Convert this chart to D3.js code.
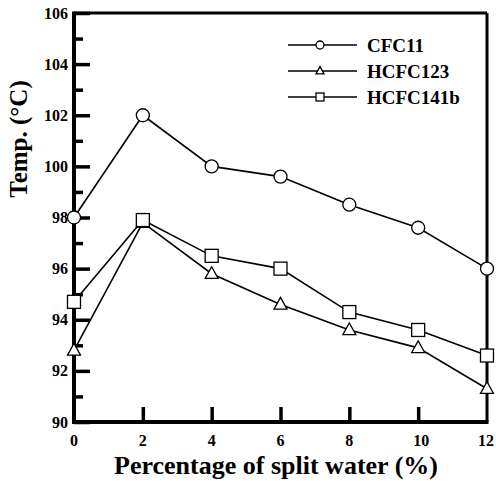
<!DOCTYPE html>
<html>
<head>
<meta charset="utf-8">
<script src="https://cdn.jsdelivr.net/npm/d3@7"></script>
<style>
  body { margin: 0; background: #fff; }
  text { font-family: "Liberation Serif", "Times New Roman", serif; font-weight: bold; }
</style>
</head>
<body>
<svg id="chart" width="496" height="481"></svg>
<script>
// data
var water = [0, 2, 4, 6, 8, 10, 12]
var cfc11 = [98.0, 102.0, 100.0, 99.6, 98.5, 97.6, 96.0]
var hcfc123 = [92.8, 97.8, 95.8, 94.6, 93.6, 92.9, 91.3]
var hcfc141b = [94.7, 97.9, 96.5, 96.0, 94.3, 93.6, 92.6]
var seriesNames = ["CFC11", "HCFC123", "HCFC141b"]
var markerTypes = ["circle", "triangle", "square"]
var xTicks = [0, 2, 4, 6, 8, 10, 12]
var yTicks = [90, 92, 94, 96, 98, 100, 102, 104, 106]
var yMinor = [91, 93, 95, 97, 99, 101, 103, 105]

var svg = d3.select("#chart")
var margin = {left: 74, right: 9, top: 13, bottom: 59}
var W = 496, H = 481

var x = d3.scaleLinear().domain([0, 12]).range([margin.left, W - margin.right])
var y = d3.scaleLinear().domain([90, 106]).range([H - margin.bottom, margin.top])

var allSeries = [cfc11, hcfc123, hcfc141b]

// frame
svg.append("line").attr("x1", x(0)).attr("x2", x(12)).attr("y1", y(106)).attr("y2", y(106))
    .attr("stroke", "#000").attr("stroke-width", 3)
svg.append("line").attr("x1", x(12)).attr("x2", x(12)).attr("y1", y(106)).attr("y2", y(90))
    .attr("stroke", "#000").attr("stroke-width", 3)

// y axis with inward ticks
var yAxis = svg.append("g").attr("transform", "translate(" + x(0) + ",0)")
    .call(d3.axisRight(y).tickValues(yTicks).tickSize(16).tickFormat(""))
yAxis.select(".domain").remove()
yAxis.selectAll("line").attr("stroke-width", 3.5)
var yMin = svg.append("g").attr("transform", "translate(" + x(0) + ",0)")
    .call(d3.axisRight(y).tickValues(yMinor).tickSize(9).tickFormat(""))
yMin.select(".domain").remove()
yMin.selectAll("line").attr("stroke-width", 3.5)

svg.selectAll(".ylab").data(yTicks).enter().append("text")
    .attr("x", x(0) - 6).attr("y", d => y(d) + 5.5)
    .attr("text-anchor", "end").attr("font-size", 16)
    .text(d => d)

// x axis with inward ticks
var xAxis = svg.append("g").attr("transform", "translate(0," + y(90) + ")")
    .call(d3.axisTop(x).tickValues(xTicks.slice(1, 6)).tickSize(15).tickFormat(""))
xAxis.select(".domain").remove()
xAxis.selectAll("line").attr("stroke-width", 3.5)

svg.selectAll(".xlab").data(xTicks).enter().append("text")
    .attr("x", d => d == 12 ? x(d) - 1 : x(d) + (d == 10 ? 3 : 0)).attr("y", y(90) + 24)
    .attr("text-anchor", "middle").attr("font-size", 16)
    .text(d => d)

svg.append("line").attr("x1", x(0)).attr("x2", x(0)).attr("y1", y(106) - 1.5).attr("y2", y(90) + 2)
    .attr("stroke", "#000").attr("stroke-width", 4)
svg.append("line").attr("x1", x(0) - 2).attr("x2", x(12) + 1.5).attr("y1", y(90)).attr("y2", y(90))
    .attr("stroke", "#000").attr("stroke-width", 4)

// titles
svg.append("text").attr("x", 276).attr("y", 474).attr("text-anchor", "middle")
    .attr("font-size", 26).text("Percentage of split water (%)")
svg.append("text").attr("transform", "translate(27,139) rotate(-90)")
    .attr("text-anchor", "middle").attr("font-size", 25).text("Temp. (°C)")

// marker helper
function drawMarker(g, type, cx, cy, s) {
    if (type == "circle") {
        g.append("circle").attr("cx", cx).attr("cy", cy).attr("r", s / 2)
            .attr("fill", "#fff").attr("stroke", "#000").attr("stroke-width", 1.3)
    } else if (type == "square") {
        g.append("rect").attr("x", cx - s / 2).attr("y", cy - s / 2).attr("width", s).attr("height", s)
            .attr("fill", "#fff").attr("stroke", "#000").attr("stroke-width", 1.3)
    } else {
        var h = s * 0.9
        g.append("path").attr("d", "M" + cx + "," + (cy - h * 0.6) + "L" + (cx + s / 2) + "," + (cy + h * 0.4) +
            "L" + (cx - s / 2) + "," + (cy + h * 0.4) + "Z")
            .attr("fill", "#fff").attr("stroke", "#000").attr("stroke-width", 1.3)
    }
}

var line = d3.line().x((d, i) => x(water[i])).y(d => y(d))

allSeries.forEach(function(s, k) {
    svg.append("path").datum(s).attr("d", line)
        .attr("fill", "none").attr("stroke", "#000").attr("stroke-width", 1.6)
})
allSeries.forEach(function(s, k) {
    var g = svg.append("g")
    s.forEach(function(v, i) {
        drawMarker(g, markerTypes[k], x(water[i]), y(v), 13)
    })
})

// legend
var lg = svg.append("g")
seriesNames.forEach(function(name, k) {
    var ly = 45 + k * 26
    lg.append("line").attr("x1", 288).attr("x2", 357).attr("y1", ly).attr("y2", ly)
        .attr("stroke", "#000").attr("stroke-width", 1.6)
    drawMarker(lg, markerTypes[k], 320, ly, 8)
    lg.append("text").attr("x", 367).attr("y", ly + 6.5).attr("font-size", 19).text(name)
})
</script>
</body>
</html>
